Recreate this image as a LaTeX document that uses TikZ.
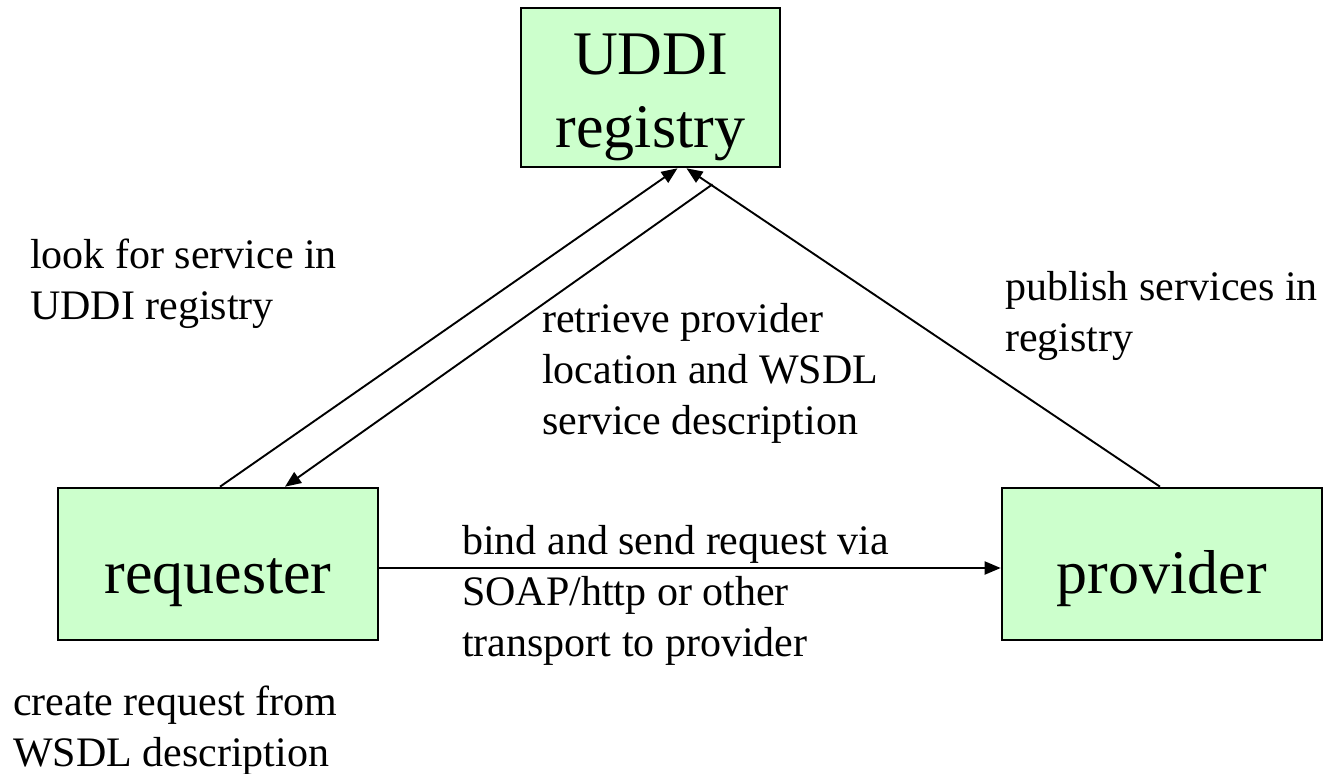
\documentclass[tikz,border=0pt]{standalone}
\usepackage{fontspec}
\setmainfont{Liberation Serif}
\usetikzlibrary{arrows.meta}
\definecolor{boxgreen}{HTML}{CCFFCC}
\tikzset{
  box/.style={draw=black, line width=2.6pt, fill=boxgreen, inner sep=0pt},
  boxtext/.style={inner sep=0pt, font=\fontsize{62}{73}\selectfont, align=center, anchor=base},
  note/.style={inner sep=0pt, font=\fontsize{42}{51}\selectfont, align=left, anchor=base west},
  link/.style={line width=1.9pt, -{Triangle[length=16pt,width=13pt]}},
}
\begin{document}
\begin{tikzpicture}[x=1pt,y=-1pt]
\useasboundingbox (0,0) rectangle (1326,774);

% the three parties
\node[box, minimum width=259pt, minimum height=159pt] (uddi) at (650.5,87.5) {};
\node[box, minimum width=320pt, minimum height=152pt] (req) at (218,564) {};
\node[box, minimum width=320pt, minimum height=152pt] (prov) at (1162,564) {};

% multi-line texts are placed by the baseline of their last line
\node[boxtext] (uddit) at (650.5,147) {UDDI\\registry};
\node[boxtext] (reqt) at (218,593) {requester};
\node[boxtext] (provt) at (1162,593) {provider};

% connectors
\coordinate (back) at ([xshift=62pt,yshift=-16pt]uddi.south);
\draw[link] ([xshift=2pt]req.north) -- ([xshift=27pt]uddi.south);
\draw[link] (back) -- ([xshift=67pt]req.north);
\draw[link] ([xshift=-2pt]prov.north) -- ([xshift=36pt]uddi.south);
\draw[link] ([yshift=-4pt]req.east) -- ([yshift=-4pt]prov.west);

% annotations
\node[note] (look) at (30,319) {look for service in\\UDDI registry};
\node[note] (retr) at (542,434) {retrieve provider\\location and WSDL\\service description};
\node[note] (publ) at (1005,351) {publish services in\\registry};
\node[note] (bind) at (462,656) {bind and send request via\\SOAP/http or other\\transport to provider};
\node[note] (crea) at (13,766) {create request from\\WSDL description};
\end{tikzpicture}
\end{document}
